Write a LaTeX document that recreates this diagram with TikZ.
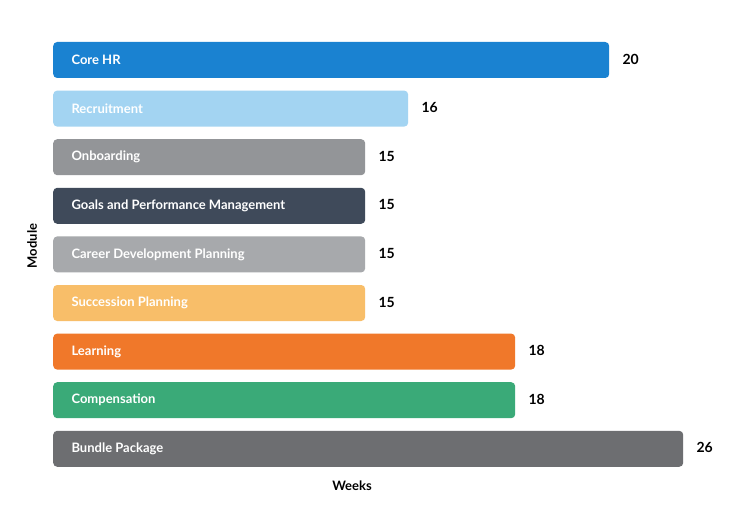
\documentclass[tikz,border=0pt]{standalone}
\usepackage{fontspec}
\setmainfont{Lato}
\begin{document}
\begin{tikzpicture}[x=1pt,y=-1pt,
 bar/.style={draw=none,rounded corners=4pt,minimum height=36pt,inner sep=0pt,anchor=west},
 lab/.style={font=\bfseries\fontsize{13}{15}\selectfont,text=white,anchor=west},
 val/.style={font=\bfseries\fontsize{14}{16}\selectfont,anchor=west,inner sep=2pt},
 ax/.style={font=\bfseries\fontsize{13}{15}\selectfont}]
\useasboundingbox[fill=white] (0,0) rectangle (750,519);
\definecolor{c1}{HTML}{1A82D1}\definecolor{c2}{HTML}{A3D4F2}\definecolor{c3}{HTML}{939598}
\definecolor{c4}{HTML}{3F4A5A}\definecolor{c5}{HTML}{A7A9AC}\definecolor{c6}{HTML}{F8BE69}
\definecolor{c7}{HTML}{F0782A}\definecolor{c8}{HTML}{3AAA78}\definecolor{c9}{HTML}{6D6E71}
\foreach \i/\name/\e/\v/\c in {0/Core HR/609/20/c1,1/Recruitment/408/16/c2,2/Onboarding/365/15/c3,3/Goals and Performance Management/365/15/c4,4/Career Development Planning/365/15/c5,5/Succession Planning/365/15/c6,6/Learning/515/18/c7,7/Compensation/515/18/c8,8/Bundle Package/683/26/c9}{
 \pgfmathsetmacro\y{60+48.6*\i}
 \pgfmathsetmacro\w{\e-53}
 \node[bar,fill=\c,minimum width=\w pt] (b\i) at (53,\y) {};
 \node[lab] (l\i) at (68,\y) {\name};
 \node[val] (v\i) at ([xshift=11pt,yshift=1pt]b\i.east) {\v};
}
\node[ax] (xl) at (352,486) {Weeks};
\node[ax,rotate=90] (yl) at (32,246) {Module};
\end{tikzpicture}
\end{document}
